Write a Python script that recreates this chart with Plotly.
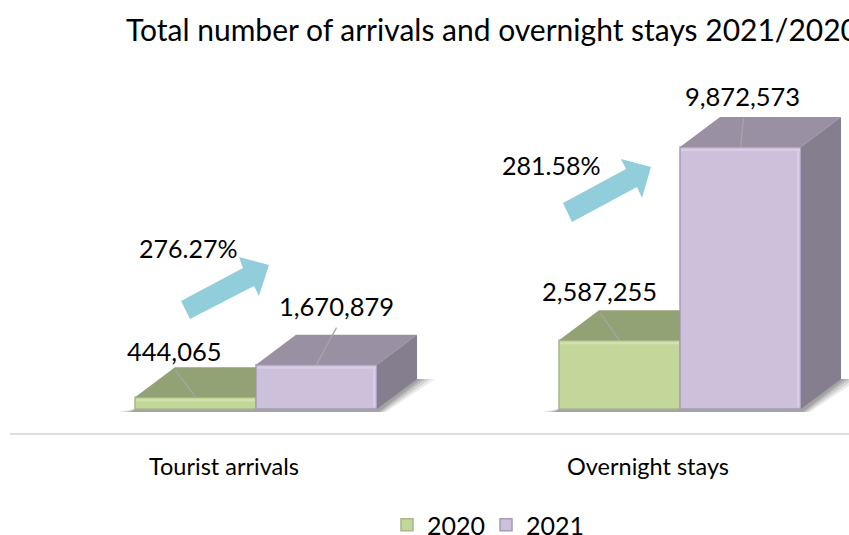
import plotly.graph_objects as go

CATEGORIES = ["Tourist arrivals", "Overnight stays"]
SERIES_2020 = [444065, 2587255]
SERIES_2021 = [1670879, 9872573]
PERCENTS = ["276.27%", "281.58%"]
TITLE = "Total number of arrivals and overnight stays 2021/2020"

W, H = 849, 535
FONT = "Lato"
BASE_PX, AXIS_PX = 409, 433
C0_PX, PITCH = 256, 424
UNITS_PX = 9872573 / 262
DX, DY = 40 / PITCH, 30 * UNITS_PX
BAR_W = 121 / PITCH

GREEN, GREEN_TOP = "#c4d79b", "#93a275"
PURPLE, PURPLE_TOP, PURPLE_SIDE = "#ccc0da", "#9a90a3", "#857e8f"


def ox(px):
    return px / PITCH


def oy(px):
    return px * UNITS_PX


def poly(xs, ys, color):
    return go.Scatter(x=xs + xs[:1], y=ys + ys[:1], mode="lines", fill="toself", fillcolor=color,
                      line=dict(width=0), showlegend=False, hoverinfo="skip")


def line(xs, ys, color, width=1.2):
    return go.Scatter(x=xs, y=ys, mode="lines", line=dict(color=color, width=width),
                      showlegend=False, hoverinfo="skip")


fig = go.Figure()
fig.add_bar(x=[0, 1], y=SERIES_2020, name="2020", offsetgroup="a", legend="legend",
            marker=dict(color=GREEN, line=dict(color="#a7b88a", width=1.5)))
fig.add_bar(x=[0, 1], y=SERIES_2021, name="2021", offsetgroup="b", legend="legend2",
            marker=dict(color=PURPLE, line=dict(color="#a79cb8", width=1.5)))

shapes = []
for i in range(2):
    left = i - BAR_W
    mid = float(i)
    right = i + BAR_W
    g, p = SERIES_2020[i], SERIES_2021[i]
    # floor shadow, drawn beneath the bars
    for grow, alpha in ((18, .12), (13, .16), (8, .2), (4, .24)):
        path = (f"M {left - ox(grow)},{-oy(3)} L {right + ox(grow / 2)},{-oy(3)} "
                f"L {right + DX + ox(grow)},{DY} L {right + DX},{DY} L {left},0 Z")
        shapes.append(dict(type="path", xref="x", yref="y", path=path, layer="below",
                           fillcolor=f"rgba(90,90,90,{alpha})", line=dict(width=0)))
    fig.add_trace(poly([left, left + DX, mid, mid], [g, g + DY, g + DY, g], GREEN_TOP))
    fig.add_trace(poly([mid, mid + DX, right + DX, right], [p, p + DY, p + DY, p], PURPLE_TOP))
    fig.add_trace(poly([right, right + DX, right + DX, right], [0, DY, p + DY, p], PURPLE_SIDE))
    # bevel highlights along the upper edges of the front faces
    fig.add_trace(line([left + ox(1), mid - ox(1)], [g - oy(3), g - oy(3)], "#d3e3ae", 2))
    fig.add_trace(line([mid + ox(1), right - ox(1)], [p - oy(3), p - oy(3)], "#d8cde6", 2))
    fig.add_trace(line([right - ox(3), right - ox(3)], [oy(2), p - oy(3)], "#d8cde6", 2))

LEADERS = [(-20, 27), (20, 37), (-19, 27), (3, 29)]
LABEL_SHIFT = [(-21, 46), (20, 59), (-20, 49), (2, 51)]
bars = [(0 - BAR_W / 2, SERIES_2020[0]), (0 + BAR_W / 2, SERIES_2021[0]),
        (1 - BAR_W / 2, SERIES_2020[1]), (1 + BAR_W / 2, SERIES_2021[1])]
annotations = []
for (bx, v), (lx, ly), (sx, sy) in zip(bars, LEADERS, LABEL_SHIFT):
    fig.add_trace(line([bx, bx + ox(lx)], [v, v + oy(ly)], "#a6a6a6", 1.3))
    annotations.append(dict(x=bx, y=v, xref="x", yref="y", text=f"{v:,}", showarrow=False, xanchor="center", yanchor="middle",
                            xshift=sx, yshift=sy, font=dict(family=FONT, size=25.5, color="#000")))

for txt, cx, cy in zip(PERCENTS, (187.5, 551), (248, 165)):
    annotations.append(dict(x=cx / W, y=1 - cy / H, xref="paper", yref="paper", text=txt, showarrow=False,
                            xanchor="center", yanchor="middle", font=dict(family=FONT, size=25, color="#000")))

ARROWS = [[(181, 301), (190, 319), (254, 286), (259, 296), (269, 265), (239, 257), (243, 268)],
          [(563, 203), (572, 222), (637, 187), (642, 198), (651, 167), (621, 159), (626, 169)]]
for pts in ARROWS:
    path = "M " + " L ".join(f"{a / W},{1 - b / H}" for a, b in pts) + " Z"
    shapes.append(dict(type="path", xref="paper", yref="paper", path=path, fillcolor="#92cddc", line=dict(width=0)))


def legend_at(px):
    return dict(orientation="h", x=px / W, xanchor="left", y=1 - 525 / H, yanchor="middle", itemclick=False,
                font=dict(family=FONT, size=25, color="#000"), bgcolor="rgba(0,0,0,0)")


TICK_SHIFT = 32 / PITCH
fig.update_layout(
    width=W, height=H, margin=dict(l=0, r=0, t=0, b=0, autoexpand=False), paper_bgcolor="white", plot_bgcolor="white",
    barmode="group", bargap=1 - 2 * BAR_W, bargroupgap=0,
    title=dict(text=TITLE, x=126 / W, xanchor="left", xref="paper", y=1 - 30 / H, yanchor="middle", yref="paper",
               font=dict(family=FONT, size=30, color="#000")),
    xaxis=dict(domain=[10 / W, 1], range=[(10 - C0_PX) / PITCH, (W - C0_PX) / PITCH],
               tickvals=[0 - TICK_SHIFT, 1 - TICK_SHIFT], ticktext=CATEGORIES,
               showgrid=False, zeroline=False, showline=True, linecolor="#dedede", linewidth=2, ticks="",
               ticklabelstandoff=12, tickfont=dict(family=FONT, size=23.5, color="#000")),
    yaxis=dict(domain=[(H - AXIS_PX) / H, 1], range=[-oy(AXIS_PX - BASE_PX), oy(BASE_PX)], visible=False),
    legend=legend_at(387), legend2=legend_at(486),
    shapes=shapes, annotations=annotations, showlegend=True,
)
fig.write_html("out.html", post_script="document.body.style.margin='0';", config={"displayModeBar": False})
